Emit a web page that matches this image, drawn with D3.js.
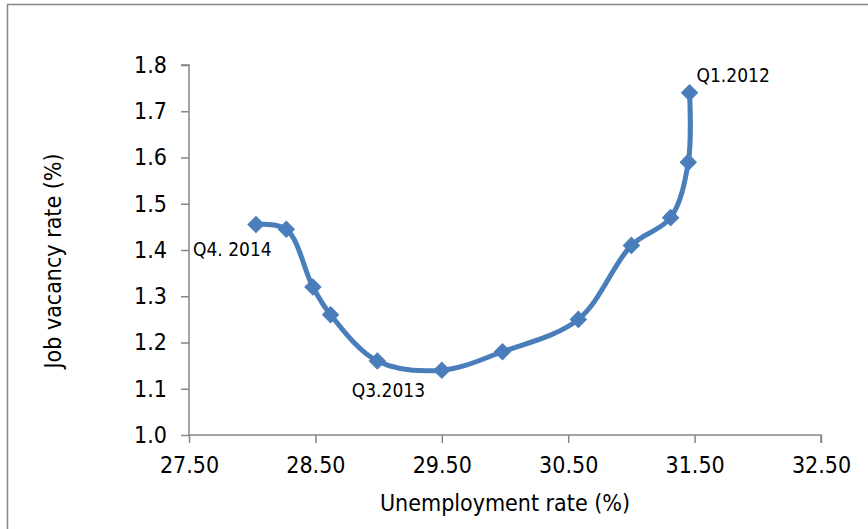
<!DOCTYPE html>
<html>
<head>
<meta charset="utf-8">
<script src="https://cdn.jsdelivr.net/npm/d3@7/dist/d3.min.js"></script>
<style>
  html, body { margin: 0; padding: 0; background: #fff; }
  svg { display: block; }
  text { font-family: "DejaVu Sans Condensed", "DejaVu Sans", sans-serif; fill: #000; }
</style>
</head>
<body>
<svg id="chart" width="868" height="529"></svg>
<script>
// ---- data ----
const quarters = ["Q1.2012","Q2.2012","Q3.2012","Q4.2012","Q1.2013","Q2.2013","Q3.2013","Q4.2013","Q1.2014","Q2.2014","Q3.2014","Q4. 2014"];
const unemployment = [31.46, 31.45, 31.31, 31.00, 30.58, 29.98, 29.50, 28.99, 28.62, 28.48, 28.27, 28.03];
const vacancy      = [1.74, 1.59, 1.47, 1.41, 1.25, 1.18, 1.14, 1.16, 1.26, 1.32, 1.445, 1.455];
const xTicks = [27.5, 28.5, 29.5, 30.5, 31.5, 32.5];
const yTicks = [1.0, 1.1, 1.2, 1.3, 1.4, 1.5, 1.6, 1.7, 1.8];
const labelled = ["Q1.2012", "Q3.2013", "Q4. 2014"];

const points = quarters.map((q, i) => ({ q, x: unemployment[i], y: vacancy[i] }));

const svg = d3.select("#chart");
const blue = "#4a7ebb";
const grey = "#868686";

// outer frame (left and top visible)
svg.append("path")
  .attr("d", "M7.5,529 L7.5,4.5 L868,4.5")
  .attr("fill", "none").attr("stroke", grey).attr("stroke-width", 1.5);

const x = d3.scaleLinear().domain([27.5, 32.5]).range([189, 821]);
const y = d3.scaleLinear().domain([1.0, 1.8]).range([435, 65]);

// x axis
const xAxis = svg.append("g").attr("transform", `translate(0,${y(1.0)})`)
  .call(d3.axisBottom(x).tickValues(xTicks).tickFormat(d3.format(".2f")).tickSize(8).tickPadding(14));
// y axis
const yAxis = svg.append("g").attr("transform", `translate(${x(27.5)},0)`)
  .call(d3.axisLeft(y).tickValues(yTicks).tickFormat(d3.format(".1f")).tickSize(8).tickPadding(14));

[xAxis, yAxis].forEach(g => {
  g.select(".domain").attr("stroke", grey).attr("stroke-width", 1.5);
  g.selectAll(".tick line").attr("stroke", grey).attr("stroke-width", 1.5);
  g.selectAll(".tick text").style("font-size", "23px").attr("fill", "#000")
    .style("font-family", "'DejaVu Sans Condensed', 'DejaVu Sans', sans-serif");
});
xAxis.select(".domain").attr("d", `M${x(27.5)},0H${x(32.5)}V8`);
yAxis.select(".domain").attr("d", `M0,${y(1.0)}V${y(1.8)}H-8`);

// axis titles
svg.append("text")
  .attr("x", (x(27.5) + x(32.5)) / 2).attr("y", 511)
  .attr("text-anchor", "middle").style("font-size", "23px")
  .text("Unemployment rate (%)");
svg.append("text")
  .attr("transform", "translate(61,261) rotate(-90)")
  .attr("text-anchor", "middle").style("font-size", "23px")
  .text("Job vacancy rate (%)");

// smoothed line
const line = d3.line().x(d => x(d.x)).y(d => y(d.y)).curve(d3.curveCatmullRom.alpha(0.5));
svg.append("path").datum(points)
  .attr("d", line)
  .attr("fill", "none").attr("stroke", blue).attr("stroke-width", 5)
  .attr("stroke-linejoin", "round").attr("stroke-linecap", "round");

// diamond markers
const sq = d3.symbol().type(d3.symbolSquare).size(130);
svg.append("g").selectAll("path").data(points).join("path")
  .attr("d", sq)
  .attr("transform", d => `translate(${x(d.x)},${y(d.y)}) rotate(45)`)
  .attr("fill", blue).attr("stroke", blue).attr("stroke-width", 1);

// data labels
const labelOffset = { "Q1.2012": [7, -11], "Q3.2013": [-90, 27], "Q4. 2014": [-63, 31] };
svg.append("g").selectAll("text").data(points.filter(p => labelled.includes(p.q))).join("text")
  .attr("x", d => x(d.x) + labelOffset[d.q][0])
  .attr("y", d => y(d.y) + labelOffset[d.q][1])
  .style("font-size", "19px")
  .text(d => d.q);
</script>
</body>
</html>
